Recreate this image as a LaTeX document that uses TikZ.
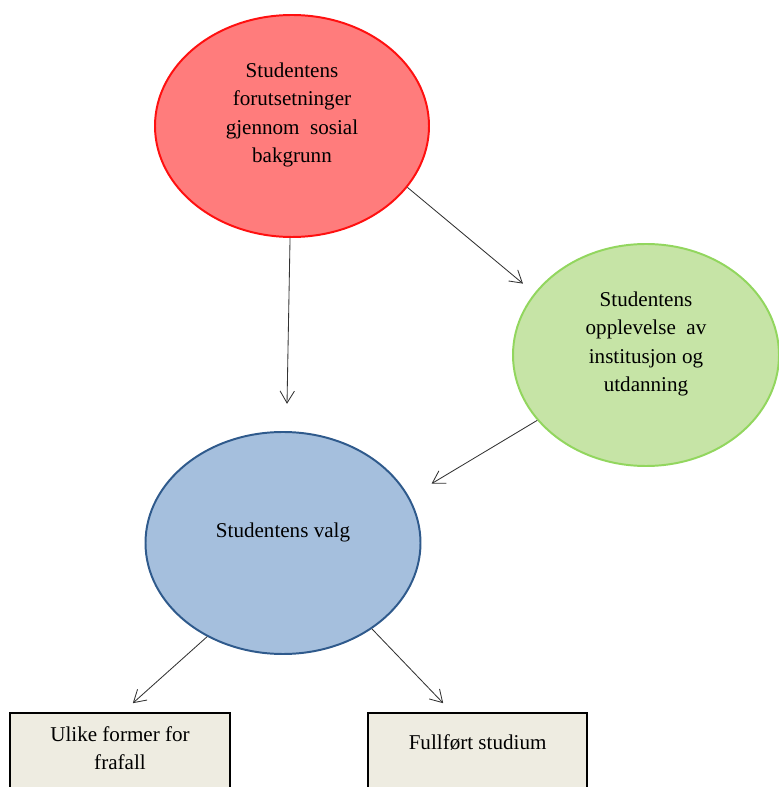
\documentclass[tikz,border=0pt]{standalone}
\usepackage{fontspec}
\setmainfont{Liberation Serif}
\usetikzlibrary{arrows.meta,shapes.geometric}

\definecolor{redfill}{HTML}{FF7C7C}
\definecolor{redline}{HTML}{FF1010}
\definecolor{greenfill}{HTML}{C6E4A6}
\definecolor{greenline}{HTML}{92D65E}
\definecolor{bluefill}{HTML}{A5BFDD}
\definecolor{blueline}{HTML}{2F5A8C}
\definecolor{boxfill}{HTML}{EEECE1}
\definecolor{arrline}{HTML}{333333}

\tikzset{
  oval/.style={ellipse, line width=1.4pt, inner sep=0pt},
  txt/.style={align=center, font=\fontsize{15}{20}\selectfont},
  endbox/.style={rectangle, draw=black, line width=1.6pt, fill=boxfill, anchor=north, minimum width=5.5cm, minimum height=3cm},
  arr/.style={draw=arrline, line width=0.6pt, -{Straight Barb[length=3mm,width=3.6mm]}}
}

\begin{document}
\begin{tikzpicture}

    \useasboundingbox (0,0) rectangle (19.475,19.675);
    \clip (0,0) rectangle (19.475,19.675);

    % ovals
    \node[oval, draw=redline, fill=redfill, minimum width=6.85cm, minimum height=5.55cm] (bakgrunn) at (7.3,16.525) {};
    \node[oval, draw=greenline, fill=greenfill, minimum width=6.65cm, minimum height=5.55cm] (opplevelse) at (16.15,10.8) {};
    \node[oval, draw=blueline, fill=bluefill, minimum width=6.875cm, minimum height=5.55cm] (valg) at (7.075,6.1) {};

    \node[txt] (bakgrunntxt) at ([yshift=0.275cm]bakgrunn.center) {Studentens\\forutsetninger\\gjennom\ \ sosial\\bakgrunn};
    \node[txt] (opplevelsetxt) at ([yshift=0.275cm]opplevelse.center) {Studentens\\opplevelse\ \ av\\institusjon og\\utdanning};
    \node[txt] (valgtxt) at ([yshift=0.275cm]valg.center) {Studentens valg};

    % boxes
    \node[endbox] (frafall) at (3.0,1.875) {};
    \node[endbox, minimum width=5.475cm] (fullfort) at (11.94,1.875) {};

    \node[txt, anchor=north] (frafalltxt) at ([yshift=-0.25cm]frafall.north) {Ulike former for\\frafall};
    \node[txt, anchor=north] (fullforttxt) at ([yshift=-0.45cm]fullfort.north) {Fullført studium};

    \draw[arr] (bakgrunn.269) to ([xshift=0.1cm,yshift=0.68cm]valg.north); % bakgrunn -> valg
    \draw[arr, shorten >=0.37cm] (bakgrunn.-28) to (opplevelse.151); % bakgrunn -> opplevelse
    \draw[arr, shorten >=0.65cm] (opplevelse.211) to (valg.20); % opplevelse -> valg
    \draw[arr] (valg.231) to ([xshift=0.32cm,yshift=0.22cm]frafall.north); % valg -> frafall
    \draw[arr] (valg.-44) to ([xshift=-0.86cm,yshift=0.22cm]fullfort.north); % valg -> fullfort

\end{tikzpicture}
\end{document}
